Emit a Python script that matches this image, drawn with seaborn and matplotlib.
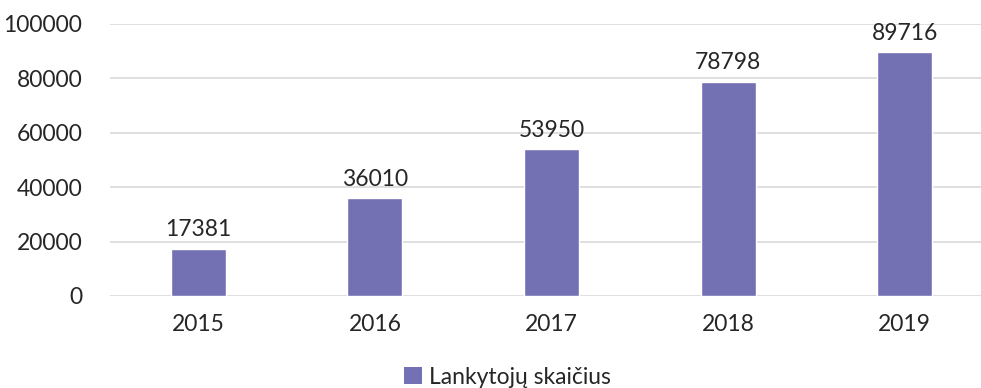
import matplotlib
matplotlib.use("Agg")
import matplotlib.pyplot as plt
import seaborn as sns
import pandas as pd
from matplotlib.patches import Patch

years = ["2015", "2016", "2017", "2018", "2019"]
visitors = [17381, 36010, 53950, 78798, 89716]
series_name = "Lankytojų skaičius"
y_ticks = [0, 20000, 40000, 60000, 80000, 100000]

bar_color = "#7370B3"
text_color = "#262626"

sns.set_theme(style="white")
plt.rcParams["font.family"] = ["Lato", "DejaVu Sans"]

df = pd.DataFrame({"year": years, "value": visitors})

fig = plt.figure(figsize=(9.81, 3.88), dpi=100)
# plot area runs slightly past the right edge of the canvas
ax = fig.add_axes([110 / 981, 92 / 388, 883 / 981, 272 / 388])

sns.barplot(data=df, x="year", y="value", color=bar_color, width=0.312,
            saturation=1, ax=ax, zorder=3)

ax.set_ylim(0, 100000)
ax.set_yticks(y_ticks)
ax.set_yticklabels([str(t) for t in y_ticks])
ax.yaxis.grid(True, color="#D9D9D9", linewidth=1.2, zorder=0)
ax.set_axisbelow(True)
for s in ax.spines.values():
    s.set_visible(False)
ax.tick_params(axis="both", length=0, labelsize=16.5, labelcolor=text_color)
ax.tick_params(axis="y", pad=20)
ax.tick_params(axis="x", pad=13)
ax.set_xlabel("")
ax.set_ylabel("")

for cont in ax.containers:
    ax.bar_label(cont, labels=[str(v) for v in visitors], padding=6,
                 fontsize=16.5, color=text_color)

fig.legend(handles=[Patch(facecolor=bar_color, edgecolor="none", label=series_name)],
           loc="lower center", bbox_to_anchor=(0.517, -0.052), frameon=False,
           fontsize=16.5, handlelength=0.8, handleheight=0.8, handletextpad=0.3,
           labelcolor=text_color)

fig.savefig("out.png", dpi=100)
